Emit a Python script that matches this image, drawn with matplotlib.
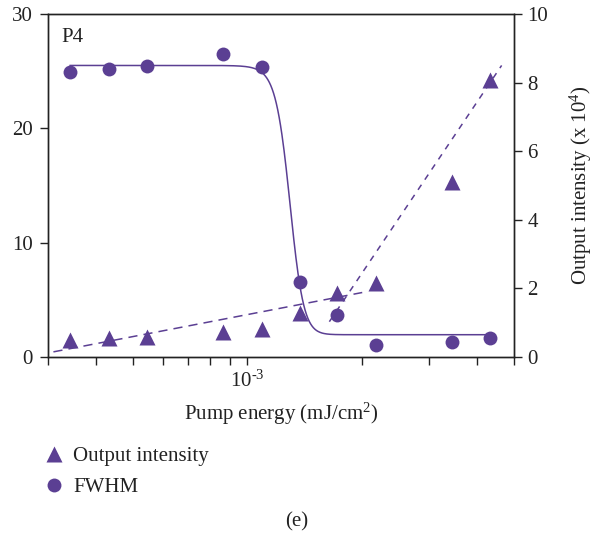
import numpy as np
import matplotlib
matplotlib.use("Agg")
import matplotlib.pyplot as plt
from matplotlib.lines import Line2D
from matplotlib.ticker import LogLocator, NullFormatter, FixedLocator, FixedFormatter

plt.rcParams['font.family'] = ['Liberation Serif', 'DejaVu Serif']
plt.rcParams['mathtext.fontset'] = 'custom'
plt.rcParams['mathtext.rm'] = 'Liberation Serif'
plt.rcParams['mathtext.it'] = 'Liberation Serif:italic'

# Data
pump = [3.43e-4, 4.33e-4, 5.45e-4, 8.64e-4, 1.09e-3, 1.37e-3, 1.72e-3, 2.17e-3, 3.43e-3, 4.33e-3]
fwhm = [24.95, 25.2, 25.45, 26.5, 25.4, 6.6, 3.7, 1.05, 1.35, 1.7]
intensity = [0.50, 0.56, 0.59, 0.72, 0.81, 1.27, 1.86, 2.15, 5.11, 8.08]  # x 10^4

# Boltzmann fit parameters for FWHM
fit_hi, fit_lo, fit_x0, fit_dx = 25.5, 1.95, 1.29e-3, 0.055e-3
fit_range = (3.43e-4, 4.33e-3)
# Dashed linear trend lines (endpoints on log axis)
trend1_x = [3.1e-4, 2.0e-3]
trend1_y = [0.15, 1.88]
trend2_x = [1.64e-3, 4.64e-3]
trend2_y = [1.03, 8.5]

color = '#5B3F93'
tc = '#222222'
fs = 15

fig = plt.figure(figsize=(5.94, 5.4), dpi=100)
ax = fig.add_axes([48/594, 1-357/540, (514-48)/594, (357-14)/540])
ax2 = ax.twinx()

ax.set_xscale('log')
ax.set_xlim(3.0e-4, 5.0e-3)
ax.set_ylim(0, 30)
ax2.set_ylim(0, 10)

xf = np.logspace(np.log10(fit_range[0]), np.log10(fit_range[1]), 600)
yf = fit_lo + (fit_hi - fit_lo) / (1 + np.exp((xf - fit_x0) / fit_dx))
ax.plot(xf, yf, color=color, lw=1.1)
ax.plot(pump, fwhm, 'o', color=color, ms=10, mec='none')

ax2.plot(trend1_x, trend1_y, color=color, lw=1.1, dashes=(6, 4))
ax2.plot(trend2_x, trend2_y, color=color, lw=1.1, dashes=(4, 4))
ax2.plot(pump, intensity, '^', color=color, ms=11, mec='none')

ax.xaxis.set_major_locator(FixedLocator([1e-3]))
ax.xaxis.set_major_formatter(FixedFormatter([r'10$^{\mathregular{\text{-}3}}$']))
ax.xaxis.set_minor_locator(LogLocator(base=10, subs=np.arange(2, 10)))
ax.xaxis.set_minor_formatter(NullFormatter())
ax.set_yticks([0, 10, 20, 30])
ax2.set_yticks([0, 2, 4, 6, 8, 10])

for a in (ax, ax2):
    a.tick_params(which='both', direction='out', length=6, width=1, labelsize=fs, colors=tc)
    for s in a.spines.values():
        s.set_linewidth(1.0)
        s.set_color(tc)
ax.tick_params(axis='x', which='both', length=6, pad=4)
ax.tick_params(axis='y', pad=5)

ax.set_xlabel('Pump energy (mJ/cm$^{\\mathregular{2}}$)', fontsize=fs, color=tc, labelpad=6)
ax2.set_ylabel('Output intensity (x 10$^{\\mathregular{4}}$)', fontsize=fs, color=tc, labelpad=14)

ax.text(0.028, 0.958, 'P4', transform=ax.transAxes, fontsize=fs, va='top', ha='left', color=tc)

handles = [Line2D([], [], marker='^', ls='none', color=color, ms=11, mec='none'),
           Line2D([], [], marker='o', ls='none', color=color, ms=10, mec='none')]
fig.legend(handles, ['Output intensity', 'FWHM'], loc='upper left',
           bbox_to_anchor=(23/594, 1-428/540), frameon=False, fontsize=fs,
           handletextpad=0.3, labelspacing=0.55, handlelength=1.2, labelcolor=tc)

fig.text(297/594, 1-522/540, '(e)', ha='center', va='center', fontsize=fs, color=tc)

fig.savefig('out.png', dpi=100)
